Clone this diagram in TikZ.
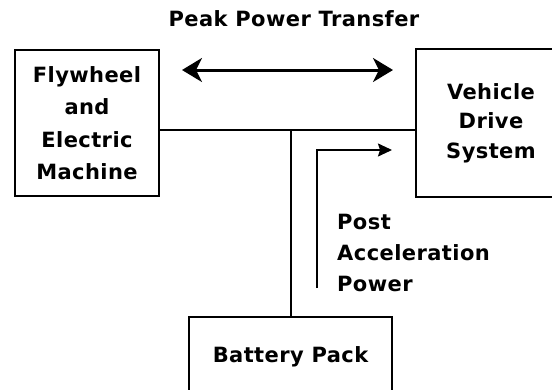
\documentclass[tikz,border=0pt]{standalone}
\usepackage{fontspec}
\setmainfont{DejaVu Sans}[LetterSpace=2,UprightFont=* Bold]
\usetikzlibrary{arrows.meta}
\begin{document}
\begin{tikzpicture}[x=1pt,y=-1pt,
  box/.style={draw, line width=1.5pt, align=center, inner sep=0pt,
    font=\fontsize{21}{32.5}\selectfont},
  lbl/.style={align=left, inner sep=0pt, font=\fontsize{21}{31}\selectfont},
  conn/.style={line width=1.5pt}]
\useasboundingbox (0,0) rectangle (552,389);
\clip (0,0) rectangle (552,389);
\node[box, minimum width=144pt, minimum height=146pt] (fly) at (87,123) {Flywheel\\and\\Electric\\Machine};
\node[box, minimum width=150pt, minimum height=148pt, font=\fontsize{21}{29.5}\selectfont] (veh) at (491,123) {Vehicle\\Drive\\System};
\node[box, minimum width=203pt, minimum height=80pt] (bat) at (290.5,357) {Battery Pack};
\node[font=\fontsize{21}{22}\selectfont, inner sep=0pt] (title) at (294,19) {Peak Power Transfer};
\coordinate (j) at (291,130);
\draw[conn] (fly.east |- j) -- (veh.west |- j);
\draw[conn] (j) -- (bat.north -| j);
\coordinate (a1) at (182,70);
\coordinate (a2) at (393,70);
\draw[line width=3pt, {Stealth[length=20pt,width=24pt,inset=6pt]}-{Stealth[length=20pt,width=24pt,inset=6pt]}] (a1) -- (a2);
\coordinate (p0) at (317,288);
\coordinate (p1) at (317,150);
\coordinate (p2) at (392,150);
\draw[conn, -{Stealth[length=14pt,width=13pt,inset=2pt]}] (p0) -- (p1) -- (p2);
\node[lbl, anchor=north west] (post) at (337,214) {Post\\Acceleration\\Power};
\end{tikzpicture}
\end{document}
